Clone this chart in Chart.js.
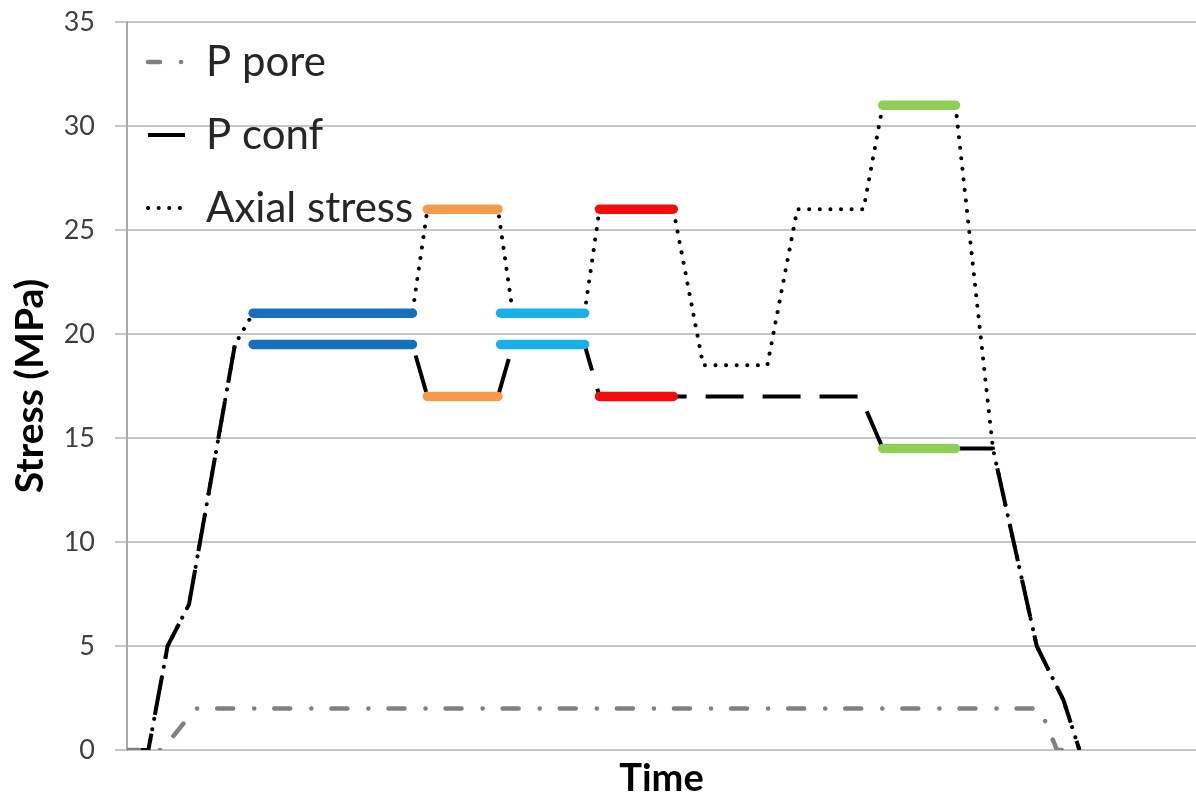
<!DOCTYPE html>
<html>
<head>
<meta charset="utf-8">
<title>Stress path</title>
<script src="https://cdn.jsdelivr.net/npm/chart.js@4.4.1/dist/chart.umd.min.js"></script>
<style>
  html, body { margin: 0; padding: 0; background: #ffffff; }
  #wrap { width: 1196px; height: 798px; position: relative; }
</style>
</head>
<body>
<div id="wrap"><canvas id="chart"></canvas></div>
<script>
// Time axis (arbitrary units) and stress values in MPa
const poreTime   = [0, 3.3, 6.4, 85.4, 87.0, 88.4];
const poreStress = [0, 0,   2,   2,    0,    0];

const confTime   = [0, 2.0, 3.8, 5.8, 10.1, 26.7, 28.1, 34.7, 36.1, 42.8, 44.2, 68.6, 70.7, 81.0, 85.1, 87.6, 89.1];
const confStress = [0, 0,   5,   7,   19.5, 19.5, 17,   17,   19.5, 19.5, 17,   17,   14.5, 14.5, 5,    2.4,  0];

const axialTime   = [0, 2.0, 3.8, 5.8, 10.1, 11.8, 26.7, 28.1, 34.7, 36.1, 42.8, 44.2, 51.1, 53.9, 59.9, 62.7, 68.9, 70.7, 77.5, 81.0, 85.1, 87.6, 89.1];
const axialStress = [0, 0,   5,   7,   19.5, 21,   21,   26,   26,   21,   21,   26,   26,   18.5, 18.5, 26,   26,   31,   31,   14.5, 5,    2.4,  0];

// Highlighted hold stages: start/end time, axial and confining stress
const stageStart = [11.8, 28.1, 34.95, 44.2, 70.7];
const stageEnd   = [26.7, 34.7, 42.8,  51.1, 77.5];
const stageAxial = [21,   26,   21,    26,   31];
const stageConf  = [19.5, 17,   19.5,  17,   14.5];
const stageColor = ['#1570bf', '#f59a4c', '#17b0ea', '#f20d0d', '#8fcf55'];

const yTicks = [0, 5, 10, 15, 20, 25, 30, 35];

const pts = (xs, ys) => xs.map((x, i) => ({ x: x, y: ys[i] }));

const stageSets = [];
stageStart.forEach((s, i) => {
  [stageAxial[i], stageConf[i]].forEach(v => {
    stageSets.push({
      label: 'stage',
      data: pts([s, stageEnd[i]], [v, v]),
      borderColor: stageColor[i],
      backgroundColor: stageColor[i],
      borderWidth: 9.5,
      borderCapStyle: 'round',
      pointRadius: 0,
      order: 0
    });
  });
});

// nudges the in-plot legend block relative to the plot corner
const legendNudge = {
  id: 'legendNudge',
  afterLayout(chart, args, opts) {
    if (chart.legend) {
      chart.legend.left -= opts.dx;
      chart.legend.top -= opts.dy;
    }
  }
};

// legend entries carry the line styles of the stress curves
function curveLabels(chart) {
  return chart.data.datasets
    .map((ds, i) => ({
      text: ds.label,
      datasetIndex: i,
      hidden: false,
      fillStyle: ds.borderColor,
      strokeStyle: ds.borderColor,
      lineWidth: ds.borderWidth,
      lineDash: ds.borderDash,
      lineDashOffset: ds.borderDashOffset || 0,
      lineCap: ds.borderCapStyle,
      pointStyle: 'line',
      fontColor: '#262626'
    }))
    .filter(item => item.text !== 'stage');
}

const ctx = document.getElementById('chart');
new Chart(ctx, {
  type: 'line',
  data: {
    datasets: [
      ...stageSets,
      {
        label: 'P pore',
        data: pts(poreTime, poreStress),
        borderColor: '#808080',
        backgroundColor: '#808080',
        borderWidth: 4.5,
        borderDash: [16, 21, 0.1, 20],
        borderDashOffset: 4,
        borderCapStyle: 'round',
        pointRadius: 0,
        order: 1
      },
      {
        label: 'P conf',
        data: pts(confTime, confStress),
        borderColor: '#000000',
        backgroundColor: '#000000',
        borderWidth: 4,
        borderDash: [38, 19],
        borderCapStyle: 'butt',
        pointRadius: 0,
        order: 1
      },
      {
        label: 'Axial stress',
        data: pts(axialTime, axialStress),
        borderColor: '#000000',
        backgroundColor: '#000000',
        borderWidth: 4,
        borderDash: [0.1, 10.5],
        borderCapStyle: 'round',
        pointRadius: 0,
        order: 1
      }
    ]
  },
  options: {
    responsive: true,
    maintainAspectRatio: false,
    animation: false,
    layout: { padding: { top: 22, right: 0, bottom: 0, left: 0 } },
    font: { family: 'Lato' },
    scales: {
      x: {
        type: 'linear',
        min: 0,
        max: 100,
        grid: { display: false },
        border: { display: true, color: '#c6c6c6', width: 2 },
        ticks: { display: false },
        title: {
          display: true,
          text: 'Time',
          color: '#000000',
          font: { family: 'Lato', size: 38, weight: 'bold', lineHeight: 1.0 },
          padding: 0
        },
        afterFit(scale) {
          scale.height = 48;
          scale.paddingLeft = 0;
          scale.paddingRight = 0;
        }
      },
      y: {
        min: 0,
        max: 35,
        afterBuildTicks(scale) { scale.ticks = yTicks.map(v => ({ value: v })); },
        grid: { color: '#c6c6c6', lineWidth: 2, tickLength: 12, drawTicks: true },
        border: { display: true, color: '#a9a9a9', width: 2 },
        ticks: {
          color: '#404040',
          font: { family: 'Lato', size: 27 },
          padding: 20
        },
        title: {
          display: true,
          text: 'Stress (MPa)',
          color: '#000000',
          font: { family: 'Lato', size: 39, weight: 'bold' },
          padding: { top: 7, bottom: 0 }
        },
        afterFit(scale) {
          scale.width = 127;
          scale.paddingTop = 0;
          scale.paddingBottom = 0;
        }
      }
    },
    plugins: {
      legendNudge: { dx: 10, dy: -10 },
      tooltip: { enabled: false },
      legend: {
        position: 'chartArea',
        align: 'start',
        labels: {
          generateLabels: curveLabels,
          usePointStyle: true,
          pointStyle: 'line',
          pointStyleWidth: 37,
          boxWidth: 37,
          padding: 31,
          color: '#262626',
          font: { family: 'Lato', size: 42 }
        }
      }
    }
  },
  plugins: [legendNudge]
});
</script>
</body>
</html>
